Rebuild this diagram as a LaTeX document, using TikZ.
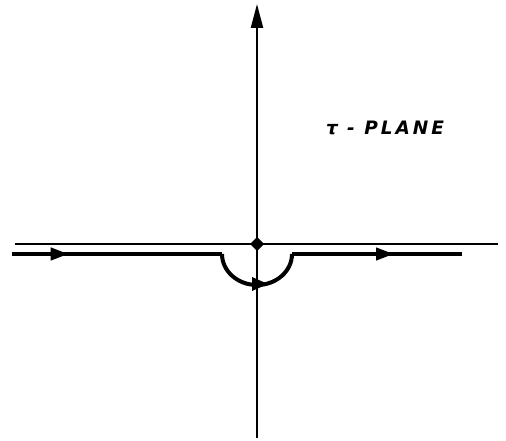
\documentclass[tikz,border=0pt]{standalone}
\usepackage{fontspec}
\setmainfont{DejaVu Sans}
\usetikzlibrary{arrows.meta, decorations.markings}
\tikzset{
  axis/.style = {line width=2.2pt},
  contour/.style = {line width=4pt},
  midarrow/.style = {decoration={markings, mark=at position #1 with {\arrow{Triangle[length=18pt,width=12pt]}}}, postaction=decorate},
  label/.style = {font=\bfseries\itshape\fontsize{18.5}{18.5}\selectfont\addfontfeatures{LetterSpace=16}}
}
\begin{document}
\begin{tikzpicture}[x=1pt, y=-1pt]
\useasboundingbox (0,0) rectangle (506,441);

% Axes
\coordinate (o) at (257,244);
\coordinate (left) at (15,244);
\coordinate (right) at (498,244);
\coordinate (top) at (257,4);
\coordinate (bot) at (257,438);
\draw[axis] (left) -- (right);
\draw[axis, -{Triangle[length=24pt,width=12pt]}] (bot) -- (top);

% Origin
\fill (o) +(0,-7) -- +(7,0) -- +(0,7) -- +(-7,0) -- cycle;

% Contour with indentation
\coordinate (cstart) at (12,254);
\coordinate (cl) at (222,254);
\coordinate (cr) at (292,254);
\coordinate (cend) at (462,254);
\draw[contour, midarrow=0.27] (cstart) -- (cl);
\draw[contour] (cl) arc[start angle=180, end angle=360, x radius=35, y radius=-31];
\draw[contour, midarrow=0.6] (cr) -- (cend);
\fill (268,284) -- (252,277) -- (252,291) -- cycle;

% Label
\node[label] (plane) at (385,128) {τ - PLANE};

\end{tikzpicture}
\end{document}
